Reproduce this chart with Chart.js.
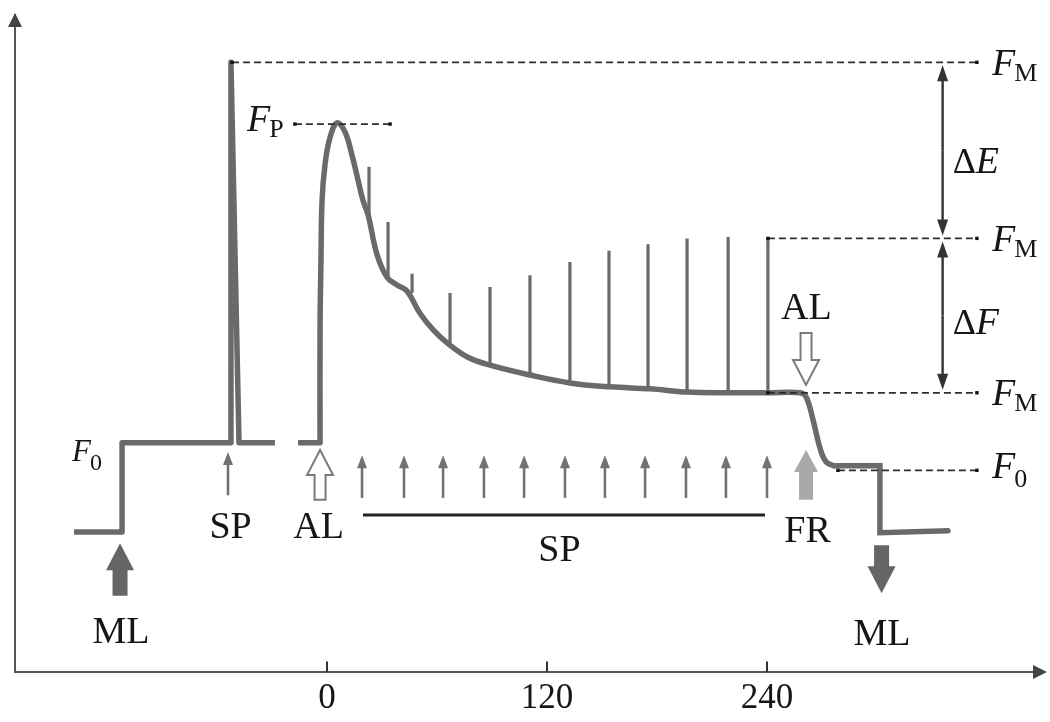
<!DOCTYPE html>
<html>
<head>
<meta charset="utf-8">
<script src="https://cdn.jsdelivr.net/npm/chart.js@4/dist/chart.umd.min.js"></script>
<style>
  html, body { margin: 0; padding: 0; background: #fff; }
</style>
</head>
<body>
<canvas id="chart" width="1050" height="722"></canvas>
<script>
// time axis (s) and relative fluorescence (0-100)
const timeTicks = [0, 120, 240];

// dark adapted leaf: measuring light on, one saturating pulse, then gap before actinic light
const darkTime  = [-138, -111.8, -111.8, -52.9, -52.4, -48.0, -28.4, null, -15.8, -3.8];
const darkLevel = [21.3, 21.3, 34.9, 34.9, 92.8, 34.9, 34.9, null, 34.9, 34.9];

// induction curve under actinic light, then light off
const lightTime  = [-3.8, -3.8, -3.3, -2.7, -1.1, 1.6, 5.5, 9.8, 13.6, 16.9, 19.6, 22.4, 27.3, 32.7, 38.2, 43.6, 50.7, 57.8, 65.5, 76.9, 88.9, 110.7, 132.5, 154.4, 176.2, 196.4, 218.7, 240.5, 258, 261.3, 265.1, 268.9, 272.2, 276.5];
const lightLevel = [34.9, 52.1, 62.7, 71.8, 77.2, 81.3, 83.6, 82.2, 78.7, 74.9, 71.8, 69.6, 63.5, 60.1, 58.9, 58.0, 54.6, 52.1, 50.1, 47.9, 46.7, 45.2, 44.0, 43.4, 43.1, 42.6, 42.5, 42.5, 42.5, 41.9, 38.4, 34.1, 32.0, 31.4];

// far red, then measuring light off
const recoveryTime  = [276.5, 301.6, 301.6, 338.7];
const recoveryLevel = [31.4, 31.4, 21.2, 21.5];

// saturating pulses during the induction
const pulseTime = [22.9, 33.3, 46.4, 67.1, 88.9, 110.7, 132.5, 153.8, 175.1, 196.4, 218.8, 240.5];
const pulseBase = [69.6, 60.1, 57.7, 49.8, 46.7, 45.2, 44.0, 43.4, 43.1, 42.6, 42.5, 42.5];
const pulseTop  = [76.9, 68.5, 60.6, 57.7, 58.6, 60.4, 62.4, 64.1, 65.1, 66.0, 66.2, 66.0];
const pulseArrowTime = [19.1, 42.0, 63.3, 85.6, 107.5, 129.8, 151.6, 173.5, 195.8, 217.6, 240.0];

// reference levels (dashed)
const levelValue = [92.8, 83.4, 66.0, 42.5, 30.7];
const levelStart = [-51.8, -17.5, 240.5, 240.5, 278.7];
const levelEnd   = [354.5, 34.4, 354.5, 354.5, 354.5];

// light switch markers
const markerTime = [-112.9, -3.8, 261.3, 261.3, 302.5];
const markerFrom = [11.6, 26.2, 26.2, 51.6, 19.3];
const markerTo   = [19.6, 33.8, 33.8, 43.7, 12.0];
const markerKind = ['ml', 'al', 'fr', 'al', 'ml'];

// text
const noteText = ['SP', 'AL', 'SP', 'FR', 'ML', 'ML', 'AL'];
const noteTime = [-52.6, -4.6, 126.8, 262.1, -112.4, 302.7, 261.5];
const noteLevel = [22.3, 22.3, 18.8, 21.7, 6.3, 6.0, 55.7];

const fluorSub   = ['M', 'M', 'M', '0', '0', 'P'];
const fluorTime  = [362.7, 362.7, 362.7, 362.7, -139.1, -43.6];
const fluorLevel = [92.8, 66.0, 42.5, 31.4, 33.6, 84.2];

const X_MIN = -170.2, X_MAX = 391.1;
const TRACE = '#6a6a6a';
const INK = '#161616';
const SERIF = '"Liberation Serif", "Times New Roman", serif';

function toPoints(xs, ys) {
    return xs.map((t, i) => ({ x: t === null ? 0 : t, y: ys[i] }));
}

function segments(xs0, ys0, xs1, ys1) {
    const pts = [];
    xs0.forEach((t, i) => {
        pts.push({ x: t, y: ys0[i] });
        pts.push({ x: xs1[i], y: ys1[i] });
        pts.push({ x: t, y: null });
    });
    return pts;
}

const tickData = segments(timeTicks, timeTicks.map(() => 0), timeTicks, timeTicks.map(() => 1.6));
const levelData = segments(levelStart, levelValue, levelEnd, levelValue);
const pulseData = segments(pulseTime, pulseBase, pulseTime, pulseTop);

function thinArrow(ctx, x, y0, y1, color, lw, headW, headL) {
    const dir = Math.sign(y1 - y0);
    ctx.strokeStyle = color;
    ctx.fillStyle = color;
    ctx.lineWidth = lw;
    ctx.beginPath();
    ctx.moveTo(x, y0);
    ctx.lineTo(x, y1 - dir * headL * 0.7);
    ctx.stroke();
    ctx.beginPath();
    ctx.moveTo(x, y1);
    ctx.lineTo(x - headW / 2, y1 - dir * headL);
    ctx.lineTo(x + headW / 2, y1 - dir * headL);
    ctx.closePath();
    ctx.fill();
}

function blockArrow(ctx, x, yTail, yTip, shaftW, headW, headL) {
    const dir = Math.sign(yTip - yTail);
    const neck = yTip - dir * headL;
    ctx.beginPath();
    ctx.moveTo(x - shaftW / 2, yTail);
    ctx.lineTo(x - shaftW / 2, neck);
    ctx.lineTo(x - headW / 2, neck);
    ctx.lineTo(x, yTip);
    ctx.lineTo(x + headW / 2, neck);
    ctx.lineTo(x + shaftW / 2, neck);
    ctx.lineTo(x + shaftW / 2, yTail);
    ctx.closePath();
}

const markerStyle = {
    ml: { fill: '#656565', stroke: null, shaft: 15, head: 28, len: 27 },
    al: { fill: '#ffffff', stroke: '#7a7a7a', shaft: 11, head: 26, len: 25 },
    fr: { fill: '#a9a9a9', stroke: null, shaft: 14, head: 24, len: 22 }
};

const schematic = {
    id: 'schematic',
    afterDatasetsDraw(chart) {
        const { ctx, scales: { x, y } } = chart;
        const px = v => x.getPixelForValue(v);
        const py = v => y.getPixelForValue(v);
        ctx.save();

        // single SP before AL and the SP train
        thinArrow(ctx, px(-54), py(26.9), py(33.5), '#727272', 2.6, 10, 13);
        pulseArrowTime.forEach(t => thinArrow(ctx, px(t), py(26.5), py(33.0), '#727272', 2.6, 10, 13));

        // SP train bar
        ctx.strokeStyle = '#222';
        ctx.lineWidth = 3;
        ctx.beginPath();
        ctx.moveTo(px(19.6), py(23.9));
        ctx.lineTo(px(238.9), py(23.9));
        ctx.stroke();

        // light markers
        markerTime.forEach((t, i) => {
            const s = markerStyle[markerKind[i]];
            blockArrow(ctx, px(t), py(markerFrom[i]), py(markerTo[i]), s.shaft, s.head, s.len);
            ctx.fillStyle = s.fill;
            ctx.fill();
            if (s.stroke) {
                ctx.strokeStyle = s.stroke;
                ctx.lineWidth = 2;
                ctx.stroke();
            }
        });

        // quenching double arrows
        const ax = px(335.8);
        [[levelValue[0], levelValue[2]], [levelValue[2], levelValue[3]]].forEach(([a, b]) => {
            const ya = py(a) + 3, yb = py(b) - 3;
            const mid = (ya + yb) / 2;
            thinArrow(ctx, ax, mid, ya, '#333', 2.4, 11, 16);
            thinArrow(ctx, ax, mid, yb, '#333', 2.4, 11, 16);
        });

        // labels
        ctx.fillStyle = INK;
        ctx.textAlign = 'center';
        ctx.textBaseline = 'alphabetic';
        ctx.font = `38px ${SERIF}`;
        noteText.forEach((s, i) => ctx.fillText(s, px(noteTime[i]), py(noteLevel[i]) + 12.5));

        ctx.textAlign = 'left';
        fluorSub.forEach((s, i) => {
            const small = i === 4;
            const big = small ? 31 : 38;
            const x0 = px(fluorTime[i]);
            const base = py(fluorLevel[i]) + big * 0.33;
            ctx.font = `italic ${big}px ${SERIF}`;
            ctx.fillText('F', x0, base);
            const w = ctx.measureText('F').width;
            ctx.font = `${small ? 24 : 26}px ${SERIF}`;
            ctx.fillText(s, x0 + w - 1, base + (s === '0' ? 9 : 6));
        });

        [['E', 77.8], ['F', 53.4]].forEach(([s, lv]) => {
            const x0 = px(341.3);
            const base = py(lv) + 12.5;
            ctx.font = `36px ${SERIF}`;
            ctx.fillText('\u0394', x0, base);
            const w = ctx.measureText('\u0394').width;
            ctx.font = `italic 38px ${SERIF}`;
            ctx.fillText(s, x0 + w, base);
        });
        ctx.restore();
    },
    afterDraw(chart) {
        const { ctx, chartArea: a } = chart;
        ctx.save();
        ctx.fillStyle = '#444';
        ctx.beginPath();
        ctx.moveTo(a.left, a.top - 2);
        ctx.lineTo(a.left - 7, a.top + 12);
        ctx.lineTo(a.left + 7, a.top + 12);
        ctx.closePath();
        ctx.fill();
        ctx.beginPath();
        ctx.moveTo(a.right + 3, a.bottom);
        ctx.lineTo(a.right - 11, a.bottom - 7);
        ctx.lineTo(a.right - 11, a.bottom + 7);
        ctx.closePath();
        ctx.fill();
        ctx.restore();
    }
};

const lineBase = { pointRadius: 0, fill: false, spanGaps: false, clip: false };

new Chart(document.getElementById('chart'), {
    type: 'line',
    data: {
        datasets: [
            Object.assign({}, lineBase, {
                data: levelData, borderColor: '#2e2e2e', borderWidth: 1.8, borderDash: [7, 4],
                pointRadius: c => (c.raw && c.raw.y !== null ? 2.4 : 0),
                pointStyle: 'rect', pointBackgroundColor: '#111', pointBorderWidth: 0
            }),
            Object.assign({}, lineBase, { data: pulseData, borderColor: TRACE, borderWidth: 3.2 }),
            Object.assign({}, lineBase, {
                data: toPoints(darkTime, darkLevel), borderColor: TRACE, borderWidth: 5.5,
                borderJoinStyle: 'round', tension: 0
            }),
            Object.assign({}, lineBase, {
                data: toPoints(lightTime, lightLevel), borderColor: TRACE, borderWidth: 5.5,
                borderCapStyle: 'round', tension: 0.4
            }),
            Object.assign({}, lineBase, {
                data: toPoints(recoveryTime, recoveryLevel), borderColor: TRACE, borderWidth: 5.5,
                borderCapStyle: 'round', tension: 0
            }),
            Object.assign({}, lineBase, { data: tickData, borderColor: '#333', borderWidth: 2 })
        ]
    },
    options: {
        responsive: false,
        animation: false,
        devicePixelRatio: 1,
        layout: { padding: { left: 15, right: 6, top: 15, bottom: 0 } },
        plugins: { legend: { display: false }, tooltip: { enabled: false } },
        scales: {
            x: {
                type: 'linear', min: X_MIN, max: X_MAX,
                grid: { display: false, drawTicks: false },
                border: { color: '#555', width: 2 },
                ticks: { color: INK, padding: 6, font: { family: SERIF, size: 35 } },
                afterBuildTicks: s => { s.ticks = timeTicks.map(v => ({ value: v })); },
                afterFit: s => { s.height = 50; }
            },
            y: {
                type: 'linear', min: 0, max: 100,
                grid: { display: false, drawTicks: false },
                border: { color: '#555', width: 2 },
                ticks: { display: false },
                afterFit: s => { s.width = 0; }
            }
        }
    },
    plugins: [schematic]
});
</script>
</body>
</html>
